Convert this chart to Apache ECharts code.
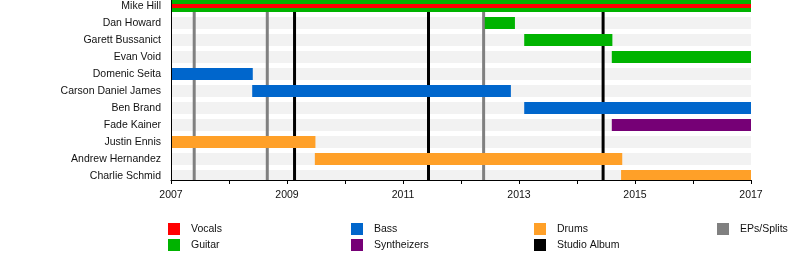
<!DOCTYPE html>
<html>
<head>
<meta charset="utf-8">
<script src="https://cdn.jsdelivr.net/npm/echarts@6/dist/echarts.min.js"></script>
<style>
html,body{margin:0;padding:0;background:#fff;}
#chart{width:800px;height:260px;}
</style>
</head>
<body>
<div id="chart"></div>
<script>
// ---- data ----
const members = ["Mike Hill","Dan Howard","Garett Bussanict","Evan Void","Domenic Seita","Carson Daniel James","Ben Brand","Fade Kainer","Justin Ennis","Andrew Hernandez","Charlie Schmid"];
const yearLabels = [2007, 2009, 2011, 2013, 2015, 2017];
const vocalsBars = [["Mike Hill", 2007, 2017]];
const guitarBars = [["Mike Hill", 2007, 2017], ["Dan Howard", 2012.41, 2012.93], ["Garett Bussanict", 2013.09, 2014.61], ["Evan Void", 2014.60, 2017]];
const bassBars = [["Domenic Seita", 2007, 2008.41], ["Carson Daniel James", 2008.40, 2012.86], ["Ben Brand", 2013.09, 2017]];
const synthBars = [["Fade Kainer", 2014.60, 2017]];
const drumsBars = [["Justin Ennis", 2007, 2009.49], ["Andrew Hernandez", 2009.48, 2014.78], ["Charlie Schmid", 2014.76, 2017]];
const studioAlbums = [2009.13, 2011.44, 2014.45];
const epsSplits = [2007.40, 2008.66, 2012.39];

// ---- layout / style ----
const X_MIN = 2007, X_MAX = 2017;
const ROW_PX = 17, PLOT_H = 180, FIRST_ROW_PX = 6;
const Y_MIN = -FIRST_ROW_PX / ROW_PX;
const Y_MAX = (PLOT_H - FIRST_ROW_PX) / ROW_PX;
const FONT = '"Liberation Sans", Arial, Helvetica, sans-serif';
const FS = 10.5;

function toRows(bars) {
  return bars.map(b => [b[1], b[2], members.indexOf(b[0])]);
}
function barRenderer(frac) {
  return function (params, api) {
    const s = api.coord([api.value(0), api.value(2)]);
    const e = api.coord([api.value(1), api.value(2)]);
    const h = api.size([0, 1])[1] * frac;
    return { type: 'rect', shape: { x: s[0], y: s[1] - h / 2, width: e[0] - s[0], height: h },
             style: { fill: api.visual('color') } };
  };
}
function lineRenderer(params, api) {
  const p = api.coord([api.value(0), Y_MIN]);
  const q = api.coord([api.value(0), Y_MAX]);
  return { type: 'line', shape: { x1: p[0], y1: p[1], x2: q[0], y2: q[1] },
           style: { stroke: api.visual('color'), lineWidth: 3 } };
}
function barSeries(name, bars, color, frac, z) {
  return { type: 'custom', name: name, data: toRows(bars), renderItem: barRenderer(frac),
           itemStyle: { color: color }, encode: { x: [0, 1], y: 2 }, clip: true, z: z, silent: true };
}

const chart = echarts.init(document.getElementById('chart'), null, { renderer: 'canvas' });
const legendCommon = { orient: 'vertical', top: 223, itemWidth: 12, itemHeight: 12, itemGap: 4, icon: 'rect',
  padding: 0, selectedMode: false, textStyle: { fontSize: FS, fontFamily: FONT, color: '#111', padding: [0, 0, 0, 6] } };

chart.setOption({
  animation: false,
  backgroundColor: '#fff',
  grid: { left: 171, right: 49, top: 0, bottom: 80, containLabel: false },
  xAxis: {
    type: 'value', min: X_MIN, max: X_MAX, interval: 1, z: 10,
    axisLine: { show: true, onZero: false, lineStyle: { color: '#000', width: 1 } },
    axisTick: { show: true, length: 4, lineStyle: { color: '#000' } },
    axisLabel: { margin: 10, fontSize: FS, fontFamily: FONT, color: '#111',
      formatter: v => (yearLabels.indexOf(v) >= 0 ? String(v) : '') },
    splitLine: { show: false }
  },
  yAxis: {
    type: 'value', inverse: true, min: Y_MIN, max: Y_MAX, z: 10,
    axisLine: { show: true, onZero: false, lineStyle: { color: '#000', width: 1 } },
    axisTick: { show: false },
    axisLabel: { margin: 10, fontSize: FS, fontFamily: FONT, color: '#111',
      customValues: members.map((m, i) => i), formatter: v => members[Math.round(v)] || '' },
    splitLine: { show: false }
  },
  legend: [
    Object.assign({ left: 168, data: ['Vocals', 'Guitar'] }, legendCommon),
    Object.assign({ left: 351, data: ['Bass', 'Syntheizers'] }, legendCommon),
    Object.assign({ left: 534, data: ['Drums', 'Studio Album'] }, legendCommon),
    Object.assign({ left: 717, data: ['EPs/Splits'] }, legendCommon)
  ],
  series: [
    { type: 'custom', name: 'bands', data: members.map((m, i) => [X_MIN, X_MAX, i]),
      renderItem: barRenderer(12 / 17), itemStyle: { color: '#f2f2f2' }, encode: { x: [0, 1], y: 2 },
      clip: true, z: 1, silent: true },
    { type: 'custom', name: 'EPs/Splits', data: epsSplits.map(v => [v]), renderItem: lineRenderer,
      itemStyle: { color: '#808080' }, encode: { x: 0 }, clip: true, z: 2, silent: true },
    { type: 'custom', name: 'Studio Album', data: studioAlbums.map(v => [v]), renderItem: lineRenderer,
      itemStyle: { color: '#000000' }, encode: { x: 0 }, clip: true, z: 2, silent: true },
    barSeries('Guitar', guitarBars, '#00b300', 12 / 17, 3),
    barSeries('Bass', bassBars, '#0066cc', 12 / 17, 3),
    barSeries('Syntheizers', synthBars, '#760076', 12 / 17, 3),
    barSeries('Drums', drumsBars, '#ffa028', 12 / 17, 3),
    barSeries('Vocals', vocalsBars, '#ff0000', 4 / 17, 4)
  ]
});
</script>
</body>
</html>
